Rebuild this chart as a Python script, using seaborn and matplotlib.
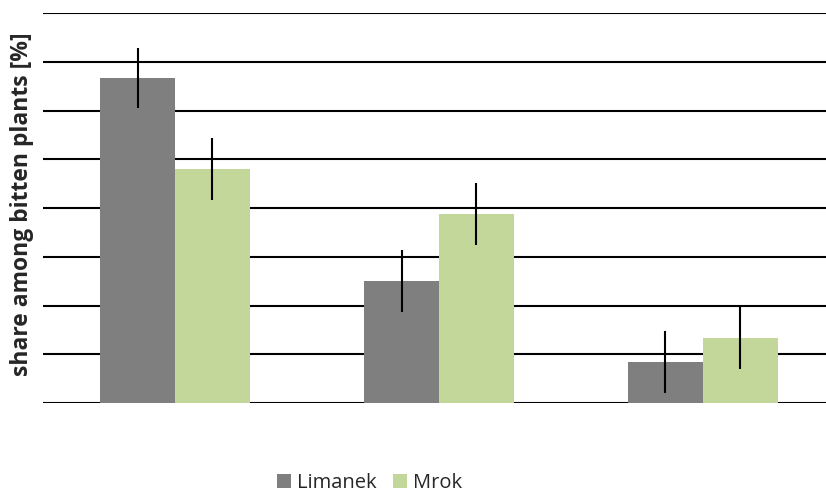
import pandas as pd
import seaborn as sns
import matplotlib.pyplot as plt

# values (share in %), categories have no labels
groups = ["A", "B", "C"]
limanek = [66.7, 25.0, 8.4]
mrok = [48.0, 38.8, 13.3]
limanek_err = [6.2, 6.3, 6.4]
mrok_err = [6.3, 6.3, 6.4]

df = pd.DataFrame({
    "group": groups * 2,
    "share": limanek + mrok,
    "site": ["Limanek"] * 3 + ["Mrok"] * 3,
})
errs = limanek_err + mrok_err

sns.set_style("white")
plt.rcParams["font.family"] = ["Open Sans", "DejaVu Sans"]

fig = plt.figure(figsize=(8.26, 4.99), dpi=100)
ax = fig.add_axes([43 / 826, 96 / 499, 1 - 43 / 826, 390 / 499])

sns.barplot(data=df, x="group", y="share", hue="site",
            palette=["#7f7f7f", "#c4d79b"], width=0.568, gap=0,
            saturation=1, linewidth=0, errorbar=None, ax=ax, zorder=3)

# error bars at bar centres
bars = [p for p in ax.patches if p.get_height() > 0]
for p, e in zip(bars, errs):
    xc = p.get_x() + p.get_width() / 2
    ax.errorbar(xc, p.get_height(), yerr=e, color="black", lw=1.5,
                capsize=0, zorder=4)

ax.set_ylim(0, 80)
ax.set_xlim(-0.5, 2.466)
ax.set_yticks(range(0, 81, 10))
ax.yaxis.grid(True, color="black", lw=1.5, zorder=0)
ax.set_axisbelow(True)
ax.set_yticklabels([])
ax.set_xticks([])
ax.set_xlabel("")
ax.tick_params(length=0)
for s in ax.spines.values():
    s.set_visible(False)

ax.set_ylabel("share among bitten plants [%]", fontsize=16.5,
              fontweight="bold")
ax.yaxis.set_label_coords(-0.012, 0.51)

ax.legend(loc="lower center", bbox_to_anchor=(0.447, -0.025),
          bbox_transform=fig.transFigure, ncol=2, frameon=False,
          fontsize=14.5, handlelength=0.7, handleheight=0.7,
          handletextpad=0.3, columnspacing=0.8)

fig.savefig("out.png", dpi=100)
